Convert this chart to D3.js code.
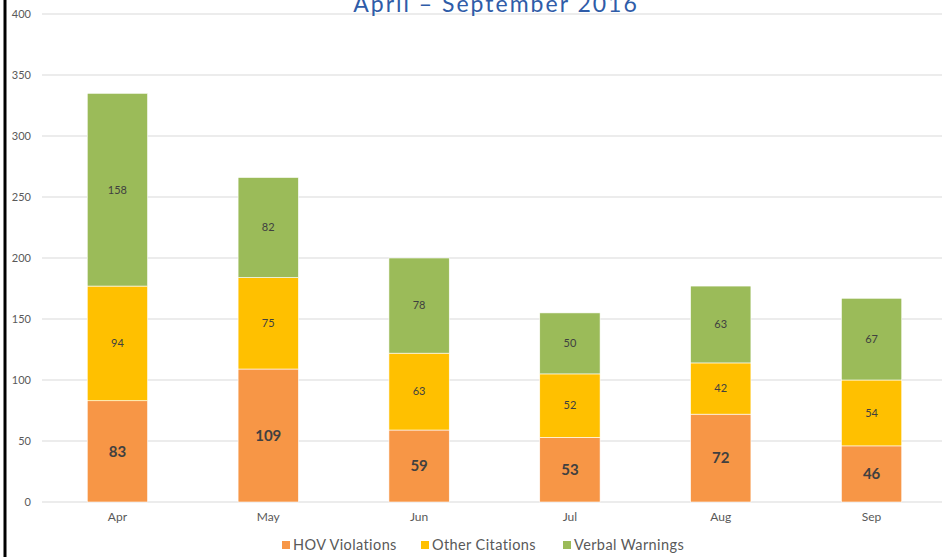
<!DOCTYPE html>
<html>
<head>
<meta charset="utf-8">
<title>April – September 2016</title>
<script src="https://d3js.org/d3.v7.min.js"></script>
<style>
	body { margin: 0; padding: 0; background: white; overflow: hidden; }
	svg text { font-family: "Lato", "DejaVu Sans", sans-serif; }
</style>
</head>
<body>
<script>
	var months = ["Apr", "May", "Jun", "Jul", "Aug", "Sep"];
	var hov = [83, 109, 59, 53, 72, 46];
	var other = [94, 75, 63, 52, 42, 54];
	var verbal = [158, 82, 78, 50, 63, 67];
	var seriesNames = ["HOV Violations", "Other Citations", "Verbal Warnings"];
	var colors = ["#F79646", "#FFC000", "#9BBB59"];
	var yTicks = [0, 50, 100, 150, 200, 250, 300, 350, 400];

	var width = 942, height = 557;

	var svg = d3.select("body").append("svg")
		.attr("width", width)
		.attr("height", height);

	var rows = months.map((m, i) => ({ month: m, hov: hov[i], other: other[i], verbal: verbal[i] }));
	var keys = ["hov", "other", "verbal"];
	var stacked = d3.stack().keys(keys)(rows);

	var x = d3.scaleBand().domain(months).range([42, 947]).paddingInner(0.6).paddingOuter(0.3);
	var y = d3.scaleLinear().domain([0, 400]).range([502, 14]);

	// gridlines
	svg.append("g").selectAll("line")
		.data(yTicks)
		.enter().append("line")
		.attr("x1", 42).attr("x2", width)
		.attr("y1", d => y(d)).attr("y2", d => y(d))
		.style("stroke", "#d9d9d9")
		.style("stroke-width", 1);

	// y tick labels
	svg.append("g").selectAll("text")
		.data(yTicks)
		.enter().append("text")
		.attr("x", 31).attr("y", d => y(d))
		.attr("dy", "0.35em")
		.attr("text-anchor", "end")
		.style("font-size", "11px")
		.style("fill", "#595959")
		.text(d => d);

	// title (cut at the top, like the original)
	svg.append("text")
		.attr("x", 496).attr("y", 12)
		.attr("text-anchor", "middle")
		.style("font-size", "23px")
		.style("letter-spacing", "2px")
		.style("fill", "#2F5CA8")
		.text("April – September 2016");

	var layer = svg.append("g").selectAll("g")
		.data(stacked)
		.enter().append("g")
		.style("fill", (d, i) => colors[i]);

	layer.selectAll("rect")
		.data(d => d)
		.enter().append("rect")
		.attr("x", d => x(d.data.month))
		.attr("width", x.bandwidth())
		.attr("y", d => y(d[1]))
		.attr("height", d => y(d[0]) - y(d[1]))
		.style("stroke", "white")
		.style("stroke-width", 0.6);

	layer.selectAll("text")
		.data((d, i) => d.map(v => ({ v: v, s: i })))
		.enter().append("text")
		.attr("x", d => x(d.v.data.month) + x.bandwidth() / 2)
		.attr("y", d => (y(d.v[0]) + y(d.v[1])) / 2)
		.attr("dy", "0.35em")
		.attr("text-anchor", "middle")
		.style("fill", "#404040")
		.style("font-size", d => d.s == 0 ? "15px" : "11px")
		.style("font-weight", d => d.s == 0 ? "bold" : "normal")
		.text(d => d.v[1] - d.v[0]);

	// x labels
	svg.append("g").selectAll("text")
		.data(months)
		.enter().append("text")
		.attr("x", d => x(d) + x.bandwidth() / 2)
		.attr("y", 521)
		.attr("text-anchor", "middle")
		.style("font-size", "12px")
		.style("fill", "#595959")
		.text(d => d);

	// legend
	var legendX = [282, 421, 563];
	var lg = svg.append("g").selectAll("g")
		.data(seriesNames)
		.enter().append("g")
		.attr("transform", (d, i) => "translate(" + legendX[i] + ",545)");
	lg.append("rect")
		.attr("x", 0).attr("y", -4).attr("width", 8).attr("height", 8)
		.style("fill", (d, i) => colors[i]);
	lg.append("text")
		.attr("x", 11).attr("y", 0)
		.attr("dy", "0.35em")
		.style("font-size", "14.5px")
		.style("letter-spacing", "0.4px")
		.style("fill", "#595959")
		.text(d => d);

	// left border
	svg.append("line")
		.attr("x1", 5).attr("x2", 5).attr("y1", 0).attr("y2", height)
		.style("stroke", "black").style("stroke-width", 3);
</script>
</body>
</html>
